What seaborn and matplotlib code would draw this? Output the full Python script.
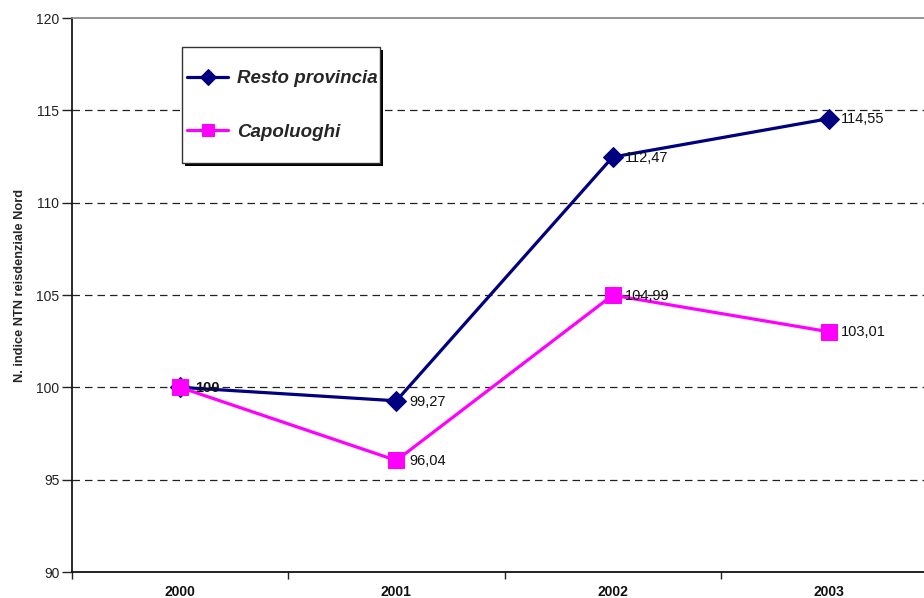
#!/usr/bin/env python3
"""Indice NTN residenziale Nord: resto provincia vs capoluoghi."""

import matplotlib

matplotlib.use("Agg")

import matplotlib.pyplot as plt
import pandas as pd
import seaborn as sns
from matplotlib.patches import Rectangle

YEARS = ["2000", "2001", "2002", "2003"]
RESTO = [100, 99.27, 112.47, 114.55]
CAPOLUOGHI = [100, 96.04, 104.99, 103.01]
SERIES = ["Resto provincia", "Capoluoghi"]
COLORS = {"Resto provincia": "#000080", "Capoluoghi": "#FF00FF"}
MARKERS = {"Resto provincia": "D", "Capoluoghi": "s"}
Y_TICKS = [90, 95, 100, 105, 110, 115, 120]

W, H = 924, 598
AX_LEFT, AX_RIGHT, AX_TOP, AX_BOTTOM = 72, 937, 18, 572


def fmt(value: float) -> str:
    if float(value).is_integer():
        return f"{int(value)}"
    return f"{value:.2f}".replace(".", ",")


def px_to_axes(x: float, y: float) -> tuple[float, float]:
    return (
        (x - AX_LEFT) / (AX_RIGHT - AX_LEFT),
        (AX_BOTTOM - y) / (AX_BOTTOM - AX_TOP),
    )


frame = pd.DataFrame(
    {
        "year": YEARS * 2,
        "pos": list(range(len(YEARS))) * 2,
        "value": RESTO + CAPOLUOGHI,
        "series": [SERIES[0]] * len(YEARS) + [SERIES[1]] * len(YEARS),
    }
)

sns.set_theme(style="white")
plt.rcParams["font.family"] = ["Liberation Sans", "DejaVu Sans"]

fig = plt.figure(figsize=(W / 100, H / 100), dpi=100)
ax = fig.add_axes(
    [
        AX_LEFT / W,
        (H - AX_BOTTOM) / H,
        (AX_RIGHT - AX_LEFT) / W,
        (AX_BOTTOM - AX_TOP) / H,
    ]
)

for name in SERIES:
    sub = frame[frame["series"] == name]
    sns.lineplot(
        data=sub,
        x="pos",
        y="value",
        ax=ax,
        color=COLORS[name],
        marker=MARKERS[name],
        markersize=10 if name == SERIES[0] else 11,
        markeredgecolor=COLORS[name],
        linewidth=2.3,
        label=name,
        zorder=3,
    )

for name, values in zip(SERIES, [RESTO, CAPOLUOGHI]):
    for i, v in enumerate(values):
        if i == 0 and name == SERIES[1]:
            continue
        bold = i == 0
        ax.annotate(
            fmt(v),
            xy=(i, v),
            xytext=(11 if bold else 9, -0.5),
            textcoords="offset points",
            ha="left",
            va="center",
            fontsize=10.5,
            fontweight="bold" if bold else "normal",
            color="#111111",
            zorder=4,
        )

ax.set_xlim(-0.5, 3.5)
ax.set_ylim(90, 120)
ax.set_yticks(Y_TICKS)
ax.set_yticklabels([str(t) for t in Y_TICKS], fontsize=10, color="#222222")
ax.set_xticks(range(len(YEARS)))
ax.set_xticklabels(YEARS, fontsize=10, fontweight="bold", color="#111111")
ax.set_xticks([-0.5, 0.5, 1.5, 2.5, 3.5], minor=True)
ax.tick_params(axis="x", which="major", length=0, pad=9)
ax.tick_params(axis="x", which="minor", direction="out", length=5, width=1,
               color="#222222", bottom=True)
ax.tick_params(axis="y", direction="out", length=7, width=1,
               color="#222222", left=True, pad=2)

for y in Y_TICKS[1:-1]:
    ax.axhline(y, color="#222222", linestyle=(0, (6, 4)), linewidth=0.9, zorder=1)

ax.spines["left"].set_color("#111111")
ax.spines["bottom"].set_color("#111111")
ax.spines["bottom"].set_linewidth(1.3)
ax.spines["top"].set_color("#888888")
ax.spines["right"].set_visible(False)

ax.set_xlabel("")
ax.set_ylabel("N. indice NTN reisdenziale Nord", fontsize=9.2, fontweight="bold")
ax.yaxis.set_label_coords(-0.053, 0.518)

# legend frame with a hard drop shadow, as in the spreadsheet original
box_x, box_y = px_to_axes(182, 163)
box_w = 198 / (AX_RIGHT - AX_LEFT)
box_h = 116 / (AX_BOTTOM - AX_TOP)
dx = 3 / (AX_RIGHT - AX_LEFT)
dy = 3 / (AX_BOTTOM - AX_TOP)
ax.add_patch(Rectangle((box_x + dx, box_y - dy), box_w, box_h, transform=ax.transAxes,
                       facecolor="black", edgecolor="none", zorder=5))
ax.add_patch(Rectangle((box_x, box_y), box_w, box_h, transform=ax.transAxes,
                       facecolor="white", edgecolor="#333333", linewidth=1.0, zorder=6))

legend = ax.legend(
    loc="upper left",
    bbox_to_anchor=px_to_axes(187, 70),
    frameon=False,
    borderpad=0,
    labelspacing=1.95,
    handlelength=2.2,
    handletextpad=0.45,
    borderaxespad=0,
    markerscale=0.8,
    prop={"size": 13.5, "weight": "bold", "style": "italic"},
)
legend.set_zorder(7)

fig.savefig("out.png", dpi=100)
